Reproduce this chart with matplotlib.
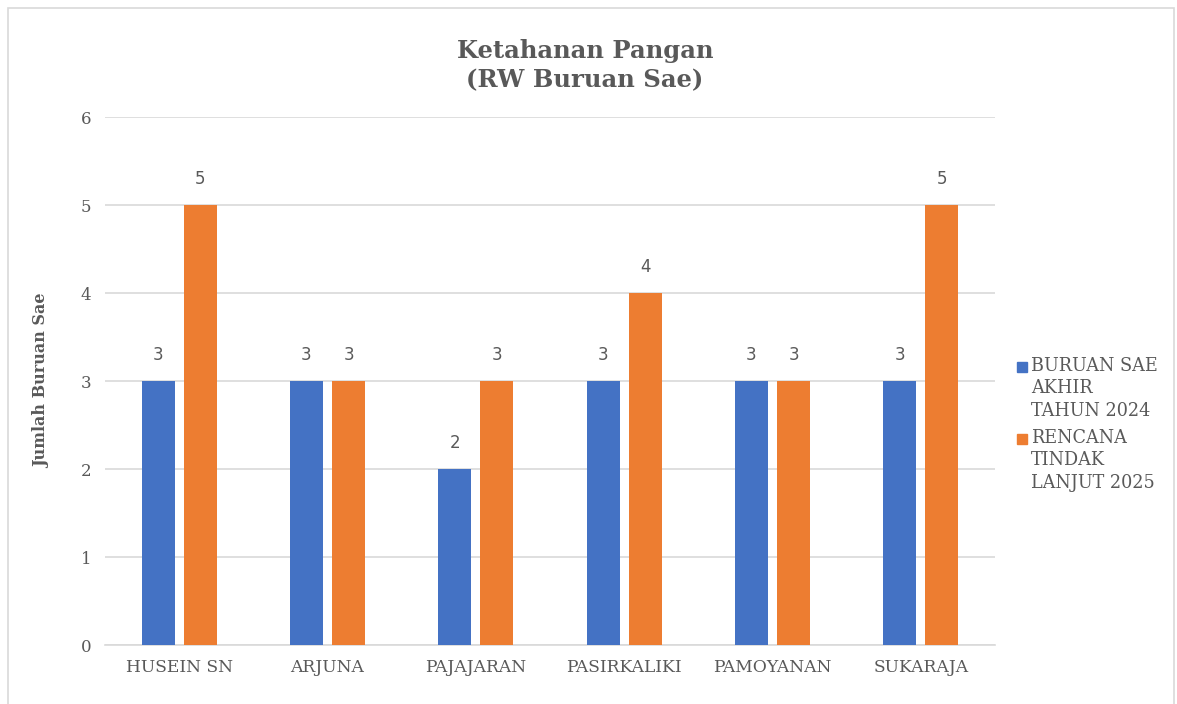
import matplotlib.pyplot as plt
import numpy as np
from matplotlib.patches import Rectangle

categories = ["HUSEIN SN", "ARJUNA", "PAJAJARAN", "PASIRKALIKI", "PAMOYANAN", "SUKARAJA"]
buruan_2024 = [3, 3, 2, 3, 3, 3]
rencana_2025 = [5, 3, 3, 4, 3, 5]
series_labels = ["BURUAN SAE\nAKHIR\nTAHUN 2024", "RENCANA\nTINDAK\nLANJUT 2025"]

BLUE = "#4472C4"
ORANGE = "#ED7D31"
TEXT = "#595959"

plt.rcParams["font.family"] = ["DejaVu Serif"]

fig = plt.figure(figsize=(11.77, 7.04), dpi=100)
ax = fig.add_axes([0.0892, 0.0838, 0.7562, 0.75])

x = np.arange(len(categories))
width = 0.223
offset = 0.142
b1 = ax.bar(x - offset, buruan_2024, width, color=BLUE, zorder=3)
b2 = ax.bar(x + offset, rencana_2025, width, color=ORANGE, zorder=3)

for bars in (b1, b2):
    ax.bar_label(bars, padding=12, fontsize=12, color=TEXT, family="DejaVu Sans")

ax.set_xlim(-0.5, len(categories) - 0.5)
ax.set_ylim(0, 6)
ax.set_yticks(range(0, 7))
ax.yaxis.grid(True, color="#D9D9D9", linewidth=1.2, zorder=0)
ax.set_xticks(x)
ax.set_xticklabels(categories, fontsize=12.3, color=TEXT)
ax.tick_params(axis="y", labelsize=12, labelcolor=TEXT, length=0, pad=10)
ax.tick_params(axis="x", length=0, pad=10)
for side in ("top", "right", "left"):
    ax.spines[side].set_visible(False)
ax.spines["bottom"].set_color("#D9D9D9")
ax.spines["bottom"].set_linewidth(1.2)

ax.set_ylabel("Jumlah Buruan Sae", fontsize=11.5, fontweight="bold", color=TEXT, labelpad=22)
fig.text(0.497, 0.907, "Ketahanan Pangan\n(RW Buruan Sae)", ha="center", va="center",
         fontsize=17.5, fontweight="bold", color=TEXT, linespacing=1.25)

# legend, handle aligned with the first text line
leg_x = 1017 / 1177
leg_tops = [357 / 704, 429 / 704]
for label, color, top in zip(series_labels, [BLUE, ORANGE], leg_tops):
    fig.patches.append(Rectangle((leg_x, 1 - top - 15 / 704), 10 / 1177, 10 / 704,
                                 transform=fig.transFigure, color=color))
    fig.text(leg_x + 14 / 1177, 1 - top, label, ha="left", va="top", fontsize=12.7,
             color=TEXT, linespacing=1.32)

fig.patches.append(Rectangle((0.0068, -0.02), 0.991, 1.0086, transform=fig.transFigure,
                             fill=False, edgecolor="#D9D9D9", linewidth=1.2))

fig.savefig("out.png", dpi=100)
